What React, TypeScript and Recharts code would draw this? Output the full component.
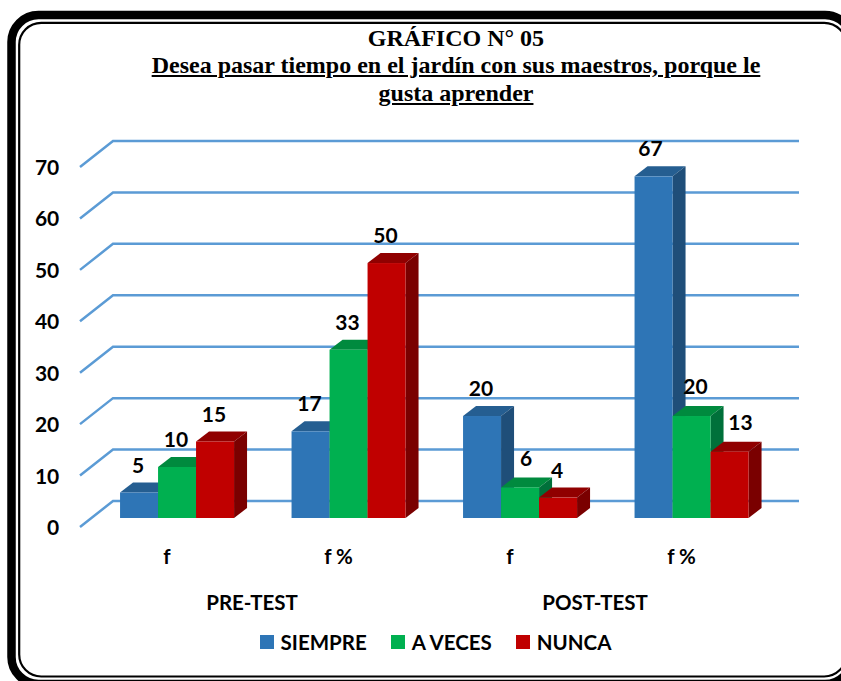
import React from "react";
import {Bar, CartesianGrid, ComposedChart, LabelList, Legend, Line, XAxis, YAxis} from "recharts";

const categories = ["f", "f %", "f", "f %"];
const groupLabels = ["PRE-TEST", "", "POST-TEST", ""];
const siempre = [5, 17, 20, 67];
const aVeces = [10, 33, 6, 20];
const nunca = [15, 50, 4, 13];
const yTicks = [0, 10, 20, 30, 40, 50, 60, 70];

const data = categories.map((label, i) => ({
    label,
    group: groupLabels[i],
    SIEMPRE: siempre[i],
    "A VECES": aVeces[i],
    NUNCA: nunca[i],
}));

const FONT = "Lato, sans-serif";
const GRID = "#5B9BD5";
const DEPTH_X = 13;
const DEPTH_Y = 10;

const seriesStyle = [
    {key: "SIEMPRE", front: "#2E75B6", top: "#255E91", side: "#1F4E79"},
    {key: "A VECES", front: "#00B050", top: "#008A3E", side: "#00703A"},
    {key: "NUNCA", front: "#C00000", top: "#900000", side: "#7A0000"},
];

// labels that were dragged by hand in the original chart
const labelNudge: Record<string, [number, number]> = {
    "SIEMPRE-3": [-2, 0],
    "A VECES-2": [7, -1],
    "A VECES-3": [5, -2],
    "NUNCA-3": [12, -2],
};

// fake 3d column: front face, top and right side
const Bar3D = ({x, y, width, height, front, top, side}: any) => {
    if (!height) return null;
    return (
        <g>
            <polygon points={`${x},${y} ${x + DEPTH_X},${y - DEPTH_Y} ${x + width + DEPTH_X},${y - DEPTH_Y} ${x + width},${y}`} fill={top}/>
            <polygon points={`${x + width},${y} ${x + width + DEPTH_X},${y - DEPTH_Y} ${x + width + DEPTH_X},${y + height - DEPTH_Y} ${x + width},${y + height}`} fill={side}/>
            <rect x={x} y={y} width={width} height={height} fill={front}/>
        </g>
    );
};

// grid line running along the floor and up the back wall
const GridLine = ({x1, x2, y1}: any) => (
    <path key={`grid-${y1}`}
          d={`M${x1 - 11.3},${y1 + 9} L${x1 + 21.7},${y1 - 17} L${x2 + 21.7},${y1 - 17}`}
          fill="none"
          stroke={GRID}
          strokeWidth={2.5}
    />
);

const YTick = ({x, y, payload}: any) => (
    <text x={x - 24} y={y + 17} textAnchor="end" fontFamily={FONT} fontWeight={700} fontSize={21} fill="#000">
        {payload.value}
    </text>
);

const XTick = ({x, y, index, payload}: any) => (
    <g>
        <text x={x - 10} y={y + 38} textAnchor="middle" fontFamily={FONT} fontWeight={700} fontSize={20.5} fill="#000">
            {payload.value}
        </text>
        {groupLabels[index] && (
            <text x={x + 75} y={y + 84} textAnchor="middle" fontFamily={FONT} fontWeight={700} fontSize={20.5} fill="#000">
                {groupLabels[index]}
            </text>
        )}
    </g>
);

const ValueLabel = ({x, y, width, value, index, seriesKey}: any) => {
    const [dx, dy] = labelNudge[`${seriesKey}-${index}`] || [0, 0];
    return (
        <text x={x + width / 2 - 1 + dx} y={y - 20 + dy} textAnchor="middle" fontFamily={FONT} fontWeight={700} fontSize={21} fill="#000">
            {value}
        </text>
    );
};

const LegendRow = () => (
    <div style={{display: "flex", justifyContent: "center", gap: 24, fontFamily: FONT, fontWeight: 700, fontSize: 20.5, color: "#000", lineHeight: "24px"}}>
        {seriesStyle.map(s => (
            <span key={s.key} style={{display: "flex", alignItems: "center", gap: 7}}>
                <span style={{width: 14, height: 14, background: s.front, display: "inline-block"}}/>
                {s.key}
            </span>
        ))}
    </div>
);

const titleLine: React.CSSProperties = {
    position: "absolute",
    left: 0,
    width: 912,
    textAlign: "center",
    fontFamily: "'Liberation Serif', serif",
    fontWeight: 700,
    fontSize: 24,
    lineHeight: "26px",
    color: "#000",
};

const App = () => {
    return (
        <div style={{position: "absolute", left: 0, top: 0, width: 841, height: 681, overflow: "hidden", background: "#fff"}}>
            <svg width={841} height={681} style={{position: "absolute", left: 0, top: 0}}>
                <rect x={11.5} y={15} width={840.5} height={669} rx={27} fill="none" stroke="#000" strokeWidth={8.5}/>
                <rect x={19.2} y={22.8} width={827} height={653.7} rx={22} fill="none" stroke="#000" strokeWidth={2.2}/>
            </svg>
            <div style={{...titleLine, top: 25}}>GRÁFICO N° 05</div>
            <div style={{...titleLine, top: 52, textDecoration: "underline"}}>Desea pasar tiempo en el jardín con sus maestros, porque le</div>
            <div style={{...titleLine, top: 80, textDecoration: "underline"}}>gusta aprender</div>
            <div style={{position: "absolute", left: 0, top: 0}}>
                <ComposedChart width={841}
                               height={681}
                               data={data}
                               margin={{top: 158, right: 63.7, bottom: 63, left: 31.3}}
                               barCategoryGap={57.5 / 2}
                               barGap={0}
                >
                    <CartesianGrid vertical={false} horizontal={(props: any) => <GridLine {...props}/>}/>
                    <XAxis dataKey="label" height={100} axisLine={false} tickLine={false} interval={0} tick={<XTick/>}/>
                    <YAxis width={60} domain={[0, 70]} ticks={yTicks} axisLine={false} tickLine={false} tick={<YTick/>}/>
                    {/* the columns stand on a slightly flatter scale than the wall grid */}
                    <YAxis yAxisId="bars" hide domain={[0, 70.6]} allowDataOverflow/>
                    {/* no visible mark, it only keeps the wall axis bound to a series */}
                    <Line dataKey="SIEMPRE" stroke="none" dot={false} activeDot={false} legendType="none" isAnimationActive={false}/>
                    <Legend layout="horizontal"
                            verticalAlign="middle"
                            align="center"
                            wrapperStyle={{top: 630, left: 15, width: 841}}
                            content={<LegendRow/>}
                    />
                    {seriesStyle.map(s => (
                        <Bar key={s.key}
                             yAxisId="bars"
                             dataKey={s.key}
                             isAnimationActive={false}
                             fill={s.front}
                             shape={(props: any) => <Bar3D {...props} front={s.front} top={s.top} side={s.side}/>}
                        >
                            <LabelList dataKey={s.key} content={<ValueLabel seriesKey={s.key}/>}/>
                        </Bar>
                    ))}
                </ComposedChart>
            </div>
        </div>
    );
};

export default App;
